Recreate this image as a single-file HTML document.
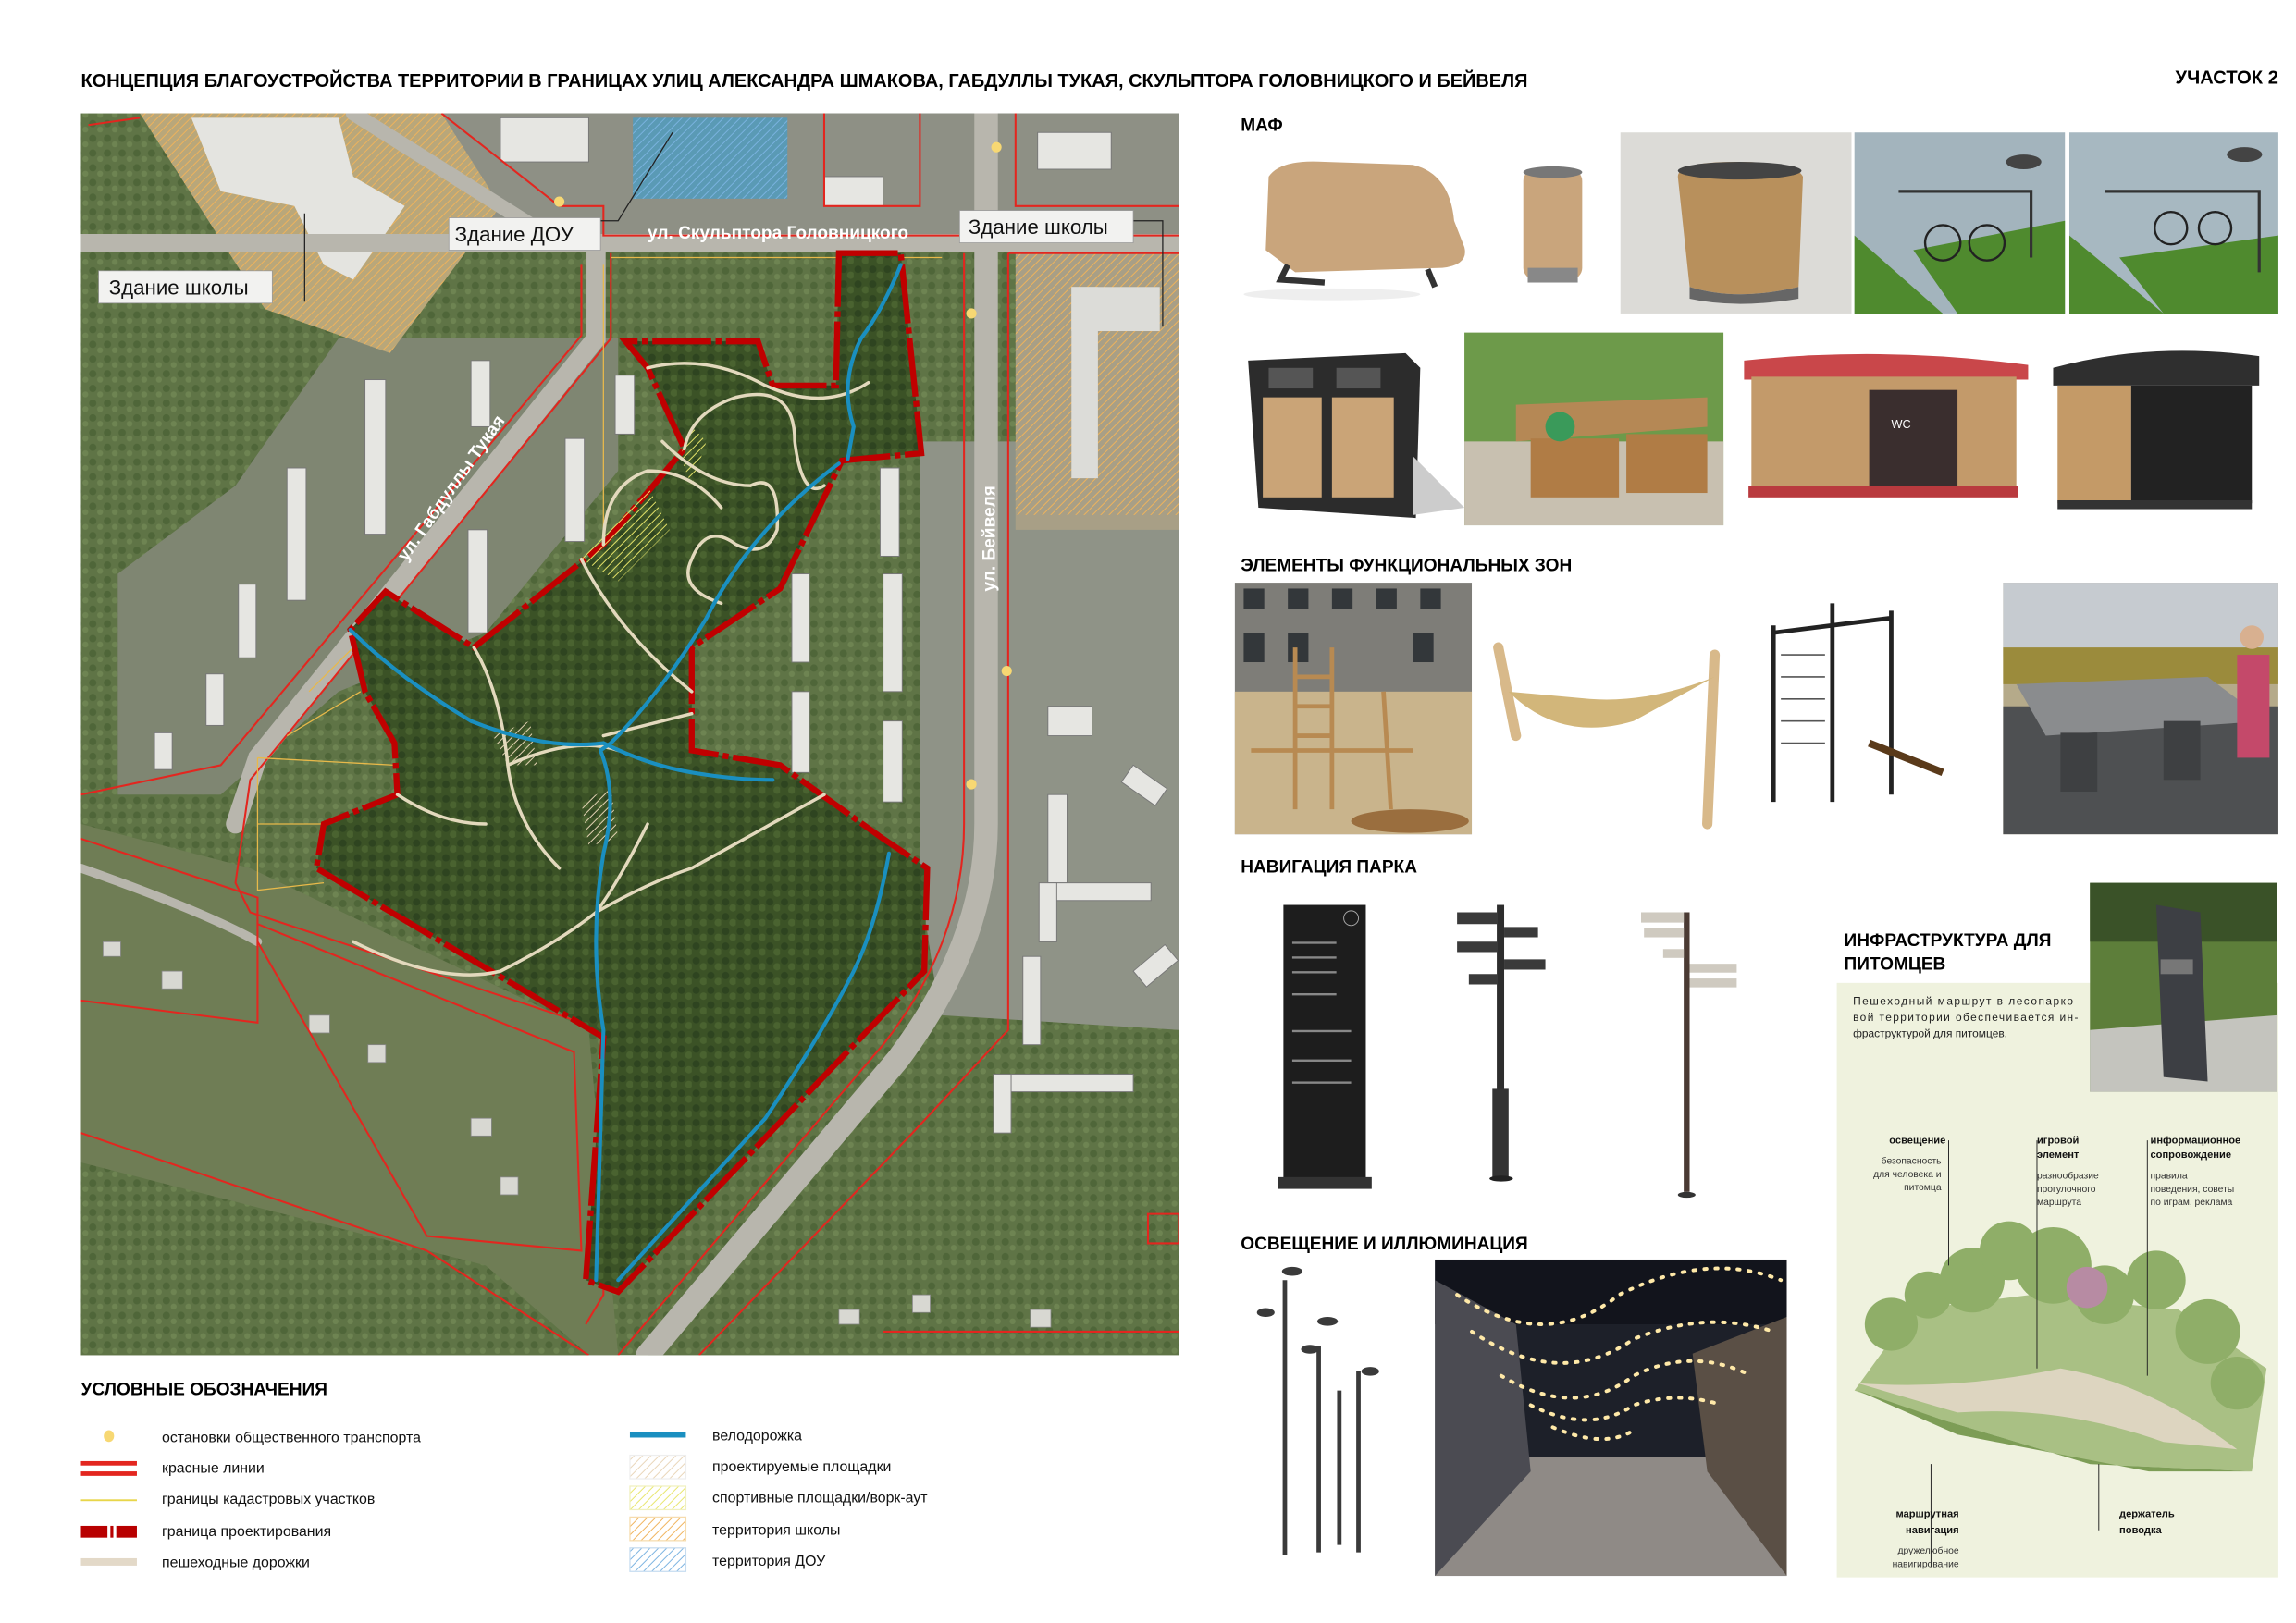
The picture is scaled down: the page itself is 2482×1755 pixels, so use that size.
<!DOCTYPE html>
<html><head><meta charset="utf-8"><style>
html,body{margin:0;padding:0;background:#fff}
svg{display:block}
text{font-family:"Liberation Sans",sans-serif}
</style></head><body>
<svg width="2482" height="1755" viewBox="0 0 1560 1103" xmlns="http://www.w3.org/2000/svg">
<defs>
<pattern id="hs" width="4" height="4" patternUnits="userSpaceOnUse" patternTransform="rotate(45)"><rect width="4" height="4" fill="none"/><line x1="0" y1="0" x2="0" y2="4" stroke="#e9d6b8" stroke-width="1.2"/></pattern>
<pattern id="hy" width="4" height="4" patternUnits="userSpaceOnUse" patternTransform="rotate(45)"><line x1="0" y1="0" x2="0" y2="4" stroke="#e8e66a" stroke-width="1.2"/></pattern>
<pattern id="ho" width="4" height="4" patternUnits="userSpaceOnUse" patternTransform="rotate(45)"><line x1="0" y1="0" x2="0" y2="4" stroke="#f0b35a" stroke-width="1.2"/></pattern>
<pattern id="hb" width="4" height="4" patternUnits="userSpaceOnUse" patternTransform="rotate(45)"><line x1="0" y1="0" x2="0" y2="4" stroke="#7ab3e0" stroke-width="1.2"/></pattern>
<pattern id="tree" width="10" height="10" patternUnits="userSpaceOnUse"><rect width="10" height="10" fill="#3b5226"/><circle cx="3" cy="3" r="2.5" fill="#2e4420"/><circle cx="8" cy="7" r="2.5" fill="#4a6330"/></pattern>
<pattern id="tree2" width="10" height="10" patternUnits="userSpaceOnUse"><rect width="10" height="10" fill="#5f7446"/><circle cx="3" cy="4" r="2.5" fill="#4f6639"/><circle cx="8" cy="8" r="2" fill="#6e8452"/></pattern>
<clipPath id="mapc"><rect x="55" y="77" width="746" height="844"/></clipPath>
</defs>

<text x="55" y="59" font-size="12.5" font-weight="bold" textLength="983" lengthAdjust="spacingAndGlyphs">КОНЦЕПЦИЯ БЛАГОУСТРОЙСТВА ТЕРРИТОРИИ В ГРАНИЦАХ УЛИЦ АЛЕКСАНДРА ШМАКОВА, ГАБДУЛЛЫ ТУКАЯ, СКУЛЬПТОРА ГОЛОВНИЦКОГО И БЕЙВЕЛЯ</text>
<text x="1478" y="57" font-size="12.5" font-weight="bold" textLength="70" lengthAdjust="spacingAndGlyphs">УЧАСТОК 2</text>

<g clip-path="url(#mapc)">
<rect x="55" y="77" width="746" height="844" fill="url(#tree2)"/>
<path d="M300 77 L801 77 L801 165 L300 165Z" fill="#8e9085"/>
<path d="M230 230 L420 230 L420 320 L330 430 L230 470 L150 540 L80 540 L80 390 L160 330Z" fill="#7f8672"/>
<path d="M625 300 L801 300 L801 760 L700 760 L640 700 L625 600Z" fill="#8f9387"/>
<path d="M690 165 L801 165 L801 360 L690 360Z" fill="#a89f86"/>
<path d="M55 560 L170 590 L400 700 L420 921 L55 921Z" fill="#6f7d55"/>
<path d="M55 790 L330 860 L400 921 L55 921Z" fill="url(#tree2)"/>
<path d="M440 921 L640 690 L801 700 L801 921Z" fill="url(#tree2)"/>
<path d="M95 77 L300 77 L340 140 L265 240 L180 210Z" fill="#b9a77a"/>
<path d="M95 77 L300 77 L340 140 L265 240 L180 210Z" fill="url(#ho)"/>
<path d="M130 80 L230 80 L240 120 L275 140 L240 190 L220 180 L200 140 L150 130Z" fill="#e4e4e0"/>
<rect x="430" y="80" width="105" height="55" fill="#5a9ab5"/>
<rect x="430" y="80" width="105" height="55" fill="url(#hb)"/>
<path d="M690 170 L801 170 L801 350 L690 350Z" fill="url(#ho)"/>
<rect x="728" y="195" width="60" height="30" fill="#dcdcd8"/><rect x="728" y="195" width="18" height="130" fill="#dcdcd8"/>
<g fill="#e6e6e2" stroke="#777" stroke-width="0.6">
<rect x="248" y="258" width="14" height="105"/><rect x="195" y="318" width="13" height="90"/><rect x="320" y="245" width="13" height="45"/><rect x="384" y="298" width="13" height="70"/><rect x="418" y="255" width="13" height="40"/><rect x="318" y="360" width="13" height="70"/><rect x="162" y="397" width="12" height="50"/><rect x="140" y="458" width="12" height="35"/><rect x="105" y="498" width="12" height="25"/><rect x="598" y="318" width="13" height="60"/><rect x="538" y="390" width="12" height="60"/><rect x="600" y="390" width="13" height="80"/><rect x="538" y="470" width="12" height="55"/><rect x="600" y="490" width="13" height="55"/><rect x="712" y="480" width="30" height="20"/><rect x="712" y="540" width="13" height="60"/><rect x="712" y="600" width="70" height="12"/><rect x="706" y="600" width="12" height="40"/><rect x="695" y="650" width="12" height="60"/><rect x="675" y="730" width="95" height="12"/><rect x="675" y="730" width="12" height="40"/><rect x="340" y="80" width="60" height="30"/><rect x="560" y="120" width="40" height="20"/><rect x="705" y="90" width="50" height="25"/><rect x="770" y="520" width="28" height="14" transform="rotate(35 770 520)"/><rect x="770" y="660" width="28" height="14" transform="rotate(-40 770 660)"/>
</g>
<g fill="#d8d8d2" stroke="#888" stroke-width="0.5"><rect x="70" y="640" width="12" height="10"/><rect x="110" y="660" width="14" height="12"/><rect x="210" y="690" width="14" height="12"/><rect x="250" y="710" width="12" height="12"/><rect x="320" y="760" width="14" height="12"/><rect x="340" y="800" width="12" height="12"/><rect x="570" y="890" width="14" height="10"/><rect x="620" y="880" width="12" height="12"/><rect x="700" y="890" width="14" height="12"/></g>
<g fill="none" stroke="#b8b6ad" stroke-linecap="round">
<path d="M55 165 L801 165" stroke-width="12"/>
<path d="M670 77 L670 560 Q670 640 610 720 L440 921" stroke-width="16"/>
<path d="M405 165 L405 230 L175 515 L160 560" stroke-width="13"/>
<path d="M240 77 L380 165" stroke-width="10"/>
<path d="M55 590 Q140 620 175 640" stroke-width="6"/>
</g>
<g fill="none" stroke="#e3261f" stroke-width="1.3">
<path d="M60 85 L95 80 M300 77 L380 140 L410 140 L410 160 L801 160"/>
<path d="M415 172 L415 230 L170 530 L160 600 L170 620 L410 700 L410 880 L398 900"/>
<path d="M395 180 L395 228 L150 520 L55 540"/>
<path d="M685 172 L801 172 M685 172 L685 700 L620 770 L475 921"/>
<path d="M655 172 L655 560 Q655 640 600 710 L420 921"/>
<path d="M55 570 L175 610 L175 695 L55 680"/>
<path d="M175 628 L390 715 L395 850 L290 840 L175 640"/>
<path d="M55 770 L290 850 L400 921"/>
<path d="M625 77 L625 140 L560 140 L560 77 M690 77 L690 140 L801 140"/>
<path d="M780 825 L801 825 L801 845 L780 845Z"/>
<path d="M600 905 L801 905"/>
</g>
<g fill="none" stroke="#e8b94a" stroke-width="0.8">
<path d="M175 515 L268 520 M175 515 L175 605 L220 600 M245 470 L195 500 M210 470 L240 440 M175 560 L220 560 M410 180 L410 380 M415 175 L640 175"/>
</g>
<path d="M570 172 L612 172 L626 308 L572 313 L530 400 L470 440 L470 510 L530 520 L600 570 L630 590 L628 660 L420 878 L398 870 L410 705 L215 590 L220 560 L270 540 L268 505 L248 470 L238 428 L262 402 L322 440 L410 370 L465 305 L440 250 L425 232 L515 232 L525 262 L568 262 Z" fill="url(#tree)"/>
<path d="M570 172 L612 172 L626 308 L572 313 L530 400 L470 440 L470 510 L530 520 L600 570 L630 590 L628 660 L420 878 L398 870 L410 705 L215 590 L220 560 L270 540 L268 505 L248 470 L238 428 L262 402 L322 440 L410 370 L465 305 L440 250 L425 232 L515 232 L525 262 L568 262 Z" fill="none" stroke="#c00000" stroke-width="4" stroke-dasharray="40 3 4 3"/>
<path d="M395 380 L440 330 L455 360 L420 395Z" fill="url(#hy)"/>
<path d="M470 290 L480 300 L470 330 L462 310Z" fill="url(#hy)"/>
<path d="M335 500 L360 490 L365 520 L345 520Z" fill="url(#hs)"/>
<path d="M395 545 L415 535 L420 570 L400 575Z" fill="url(#hs)"/>
<g fill="none" stroke="#e3d9bd" stroke-width="2.2" stroke-linecap="round">
<path d="M440 250 Q480 240 520 262 Q560 280 590 260"/>
<path d="M465 305 Q470 280 500 270 Q540 260 540 300 Q545 340 560 330"/>
<path d="M450 300 Q480 330 510 330 Q530 320 528 360 Q520 380 500 370 Q480 355 470 380 Q460 400 490 410"/>
<path d="M410 370 Q410 330 440 320 Q470 320 490 345"/>
<path d="M395 380 Q420 430 470 470"/>
<path d="M322 440 Q340 470 345 520 Q350 560 380 590 M345 520 Q390 500 420 510"/>
<path d="M270 540 Q300 560 330 560"/>
<path d="M405 620 Q380 640 340 660 Q300 670 240 640 M440 560 Q420 600 405 620"/>
<path d="M405 620 Q440 600 470 590 L560 540"/>
<path d="M410 500 L470 485"/>
</g>
<g fill="none" stroke="#1a8fc0" stroke-width="2.6" stroke-linecap="round">
<path d="M612 180 Q600 210 585 230 Q570 260 580 290 L576 312"/>
<path d="M570 315 Q510 360 480 420 Q450 470 415 505 L408 510"/>
<path d="M238 428 Q270 460 320 490 Q370 510 410 505 Q440 520 470 525 Q500 530 525 530"/>
<path d="M408 510 Q420 540 410 580 Q400 640 410 700 L405 870"/>
<path d="M604 580 Q595 630 580 660 Q560 700 520 760 L420 870"/>
</g>
<g fill="#f7d873"><circle cx="677" cy="100" r="3.5"/><circle cx="380" cy="137" r="3.5"/><circle cx="660" cy="213" r="3.5"/><circle cx="684" cy="456" r="3.5"/><circle cx="660" cy="533" r="3.5"/></g>
<path d="M207 205 L207 145 M408 150 L420 150 L457 90 M770 150 L790 150 L790 222" stroke="#222" stroke-width="0.8" fill="none"/>
<rect x="305" y="148" width="103" height="22" fill="#f2f2f0" stroke="#999" stroke-width="0.5"/>
<text x="309" y="164" font-size="14" fill="#111">Здание ДОУ</text>
<text x="440" y="162" font-size="12" fill="#fff" font-weight="bold">ул. Скульптора Головницкого</text>
<rect x="652" y="143" width="118" height="22" fill="#f2f2f0" stroke="#999" stroke-width="0.5"/>
<text x="658" y="159" font-size="14" fill="#111">Здание школы</text>
<rect x="67" y="184" width="118" height="22" fill="#f2f2f0" stroke="#999" stroke-width="0.5"/>
<text x="74" y="200" font-size="14" fill="#111">Здание школы</text>
<text x="0" y="0" font-size="12" fill="#fff" font-weight="bold" transform="translate(276 382) rotate(-55)">ул. Габдуллы Тукая</text>
<text x="0" y="0" font-size="12" fill="#fff" font-weight="bold" transform="translate(676 402) rotate(-90)">ул. Бейвеля</text>
</g>

<text x="55" y="948" font-size="12" font-weight="bold">УСЛОВНЫЕ ОБОЗНАЧЕНИЯ</text>
<g font-size="10" fill="#111">
<ellipse cx="74" cy="976" rx="3.5" ry="4" fill="#f7d873"/><text x="110" y="980">остановки общественного транспорта</text>
<rect x="55" y="993" width="38" height="3" fill="#e3261f"/><rect x="55" y="1000" width="38" height="3" fill="#e3261f"/><text x="110" y="1001">красные линии</text>
<rect x="55" y="1019" width="38" height="1.2" fill="#e8d64a"/><text x="110" y="1022">границы кадастровых участков</text>
<rect x="55" y="1037" width="18" height="8" fill="#b80000"/><rect x="75" y="1037" width="2" height="8" fill="#b80000"/><rect x="79" y="1037" width="14" height="8" fill="#b80000"/><text x="110" y="1044">граница проектирования</text>
<rect x="55" y="1059" width="38" height="5" fill="#e3d9c8"/><text x="110" y="1065">пешеходные дорожки</text>
<rect x="428" y="973" width="38" height="4" fill="#1a8fc0"/><text x="484" y="979">велодорожка</text>
<rect x="428" y="989" width="38" height="16" fill="url(#hs)" stroke="#eee" stroke-width="0.8"/><text x="484" y="1000">проектируемые площадки</text>
<rect x="428" y="1010" width="38" height="16" fill="url(#hy)" stroke="#f0f0c0" stroke-width="0.8"/><text x="484" y="1021">спортивные площадки/ворк-аут</text>
<rect x="428" y="1031" width="38" height="16" fill="url(#ho)" stroke="#f6dcae" stroke-width="0.8"/><text x="484" y="1043">территория школы</text>
<rect x="428" y="1052" width="38" height="16" fill="url(#hb)" stroke="#c7dcf0" stroke-width="0.8"/><text x="484" y="1064">территория ДОУ</text>
</g>

<g font-size="12" font-weight="bold">
<text x="843" y="89">МАФ</text>
<text x="843" y="388">ЭЛЕМЕНТЫ ФУНКЦИОНАЛЬНЫХ ЗОН</text>
<text x="843" y="593">НАВИГАЦИЯ ПАРКА</text>
<text x="843" y="849">ОСВЕЩЕНИЕ И ИЛЛЮМИНАЦИЯ</text>
</g>

<path d="M860 170 L862 120 Q870 108 900 110 L960 112 Q985 118 988 150 L995 168 Q998 180 980 182 L880 185 Z" fill="#c9a57c"/>
<path d="M875 180 L870 190 L900 192 M970 183 L975 195" stroke="#333" stroke-width="4" fill="none"/>
<ellipse cx="905" cy="200" rx="60" ry="4" fill="#eee"/>
<rect x="1035" y="115" width="40" height="75" rx="8" fill="#c9a57c"/><ellipse cx="1055" cy="117" rx="20" ry="4" fill="#777"/><rect x="1038" y="182" width="34" height="10" fill="#888"/>
<rect x="1101" y="90" width="157" height="123" fill="#dcdbd7"/>
<path d="M1140 120 Q1140 110 1180 110 Q1220 110 1225 120 L1222 195 Q1180 205 1148 195Z" fill="#b8905c"/><ellipse cx="1182" cy="116" rx="42" ry="6" fill="#444"/><path d="M1148 195 Q1180 205 1222 195 L1222 203 Q1180 210 1148 203Z" fill="#666"/>
<rect x="1260" y="90" width="143" height="123" fill="#a3b4bd"/><path d="M1260 160 L1320 213 L1260 213Z M1300 170 L1403 150 L1403 213 L1330 213Z" fill="#4f8a2e"/><circle cx="1320" cy="165" r="12" fill="none" stroke="#222" stroke-width="1.5"/><circle cx="1350" cy="165" r="12" fill="none" stroke="#222" stroke-width="1.5"/><ellipse cx="1375" cy="110" rx="12" ry="5" fill="#444"/><path d="M1290 130 L1380 130 L1380 175" stroke="#333" stroke-width="2" fill="none"/>
<rect x="1406" y="90" width="142" height="123" fill="#a7b8c1"/><path d="M1406 160 L1470 213 L1406 213Z M1440 175 L1548 160 L1548 213 L1470 213Z" fill="#4f8a2e"/><circle cx="1475" cy="155" r="11" fill="none" stroke="#222" stroke-width="1.5"/><circle cx="1505" cy="155" r="11" fill="none" stroke="#222" stroke-width="1.5"/><ellipse cx="1525" cy="105" rx="12" ry="5" fill="#444"/><path d="M1430 130 L1535 130 L1535 185" stroke="#333" stroke-width="2" fill="none"/>

<path d="M848 245 L955 240 L965 250 L962 352 L855 345 Z" fill="#2c2c2c"/>
<rect x="858" y="270" width="40" height="68" fill="#caa477"/><rect x="905" y="270" width="42" height="68" fill="#caa477"/><rect x="862" y="250" width="30" height="14" fill="#555"/><rect x="908" y="250" width="30" height="14" fill="#555"/>
<path d="M960 310 L995 345 L960 350Z" fill="#ccc"/>
<rect x="995" y="226" width="176" height="131" fill="#6d9a4a"/><rect x="995" y="300" width="176" height="57" fill="#c8c0b0"/><path d="M1030 275 L1160 270 L1160 290 L1030 300Z" fill="#b58855"/><rect x="1040" y="298" width="60" height="40" fill="#b07c45"/><rect x="1105" y="295" width="55" height="40" fill="#b07c45"/><circle cx="1060" cy="290" r="10" fill="#3a9a5a"/>
<path d="M1185 245 Q1280 235 1378 248 L1378 258 L1185 258Z" fill="#c9474a"/><rect x="1190" y="256" width="180" height="75" fill="#c39a6a"/><rect x="1270" y="265" width="60" height="66" fill="#3a2e2e"/><text x="1285" y="291" font-size="8" fill="#fff">WC</text><rect x="1188" y="330" width="183" height="8" fill="#b93a3e"/>
<path d="M1395 250 Q1460 232 1535 242 L1535 262 L1395 262Z" fill="#2f2f2f"/><rect x="1398" y="262" width="50" height="80" fill="#c49a67"/><rect x="1448" y="262" width="82" height="80" fill="#222"/><rect x="1398" y="340" width="132" height="6" fill="#333"/>

<rect x="839" y="396" width="161" height="171" fill="#7e7d78"/>
<g fill="#33373a"><rect x="845" y="400" width="14" height="14"/><rect x="875" y="400" width="14" height="14"/><rect x="905" y="400" width="14" height="14"/><rect x="935" y="400" width="14" height="14"/><rect x="965" y="400" width="14" height="14"/><rect x="845" y="430" width="14" height="20"/><rect x="875" y="430" width="14" height="20"/><rect x="960" y="430" width="14" height="20"/></g>
<rect x="839" y="470" width="161" height="97" fill="#c9b48c"/>
<g stroke="#b88a52" stroke-width="3"><path d="M880 440 L880 550 M905 440 L905 550 M880 460 L905 460 M880 480 L905 480 M880 500 L905 500 M850 510 L960 510 M940 470 L945 550"/></g>
<ellipse cx="958" cy="558" rx="40" ry="8" fill="#9a6e3e"/>
<path d="M1018 440 L1030 500 M1165 445 L1160 560" stroke="#d8b98a" stroke-width="7" stroke-linecap="round"/>
<path d="M1025 470 Q1060 505 1110 490 L1165 460 Q1120 478 1080 475 Z" fill="#d2b67a"/>
<g stroke="#222" stroke-width="3"><path d="M1205 425 L1205 545 M1245 410 L1245 545 M1285 415 L1285 540 M1205 430 L1285 420"/></g>
<g stroke="#555" stroke-width="1"><path d="M1210 445 L1240 445 M1210 460 L1240 460 M1210 475 L1240 475 M1210 490 L1240 490 M1210 505 L1240 505"/></g>
<path d="M1270 505 L1320 525" stroke="#5a3a1a" stroke-width="5"/>
<rect x="1361" y="396" width="187" height="171" fill="#b5aa8a"/><rect x="1361" y="396" width="187" height="50" fill="#c6cbd0"/><rect x="1361" y="440" width="187" height="25" fill="#9b8b3c"/><rect x="1361" y="480" width="187" height="87" fill="#4e5052"/><path d="M1370 465 L1500 460 L1540 490 L1390 500Z" fill="#8a8c8e"/><rect x="1400" y="498" width="25" height="40" fill="#3e4042"/><rect x="1470" y="490" width="25" height="40" fill="#3e4042"/><rect x="1520" y="445" width="22" height="70" fill="#c4496a"/><circle cx="1530" cy="433" r="8" fill="#d8b090"/>

<rect x="872" y="615" width="56" height="190" fill="#1d1d1d"/><rect x="868" y="800" width="64" height="8" fill="#333"/><circle cx="918" cy="624" r="5" fill="none" stroke="#aaa" stroke-width="0.6"/>
<g fill="#888"><rect x="878" y="640" width="30" height="1.5"/><rect x="878" y="650" width="30" height="1.5"/><rect x="878" y="660" width="30" height="1.5"/><rect x="878" y="675" width="30" height="1.5"/><rect x="878" y="700" width="40" height="1.5"/><rect x="878" y="720" width="40" height="1.5"/><rect x="878" y="735" width="40" height="1.5"/></g>
<rect x="1017" y="615" width="5" height="185" fill="#2d2d2d"/><rect x="1014" y="740" width="11" height="60" fill="#333"/><ellipse cx="1020" cy="801" rx="8" ry="2" fill="#222"/>
<g fill="#3a3a3a"><path d="M990 620 L1017 620 L1017 628 L990 628Z"/><path d="M1022 630 L1045 630 L1045 637 L1022 637Z"/><path d="M990 640 L1017 640 L1017 647 L990 647Z"/><path d="M1022 652 L1050 652 L1050 659 L1022 659Z"/><path d="M998 662 L1017 662 L1017 669 L998 669Z"/></g>
<rect x="1144" y="620" width="4" height="190" fill="#4a3a33"/><ellipse cx="1146" cy="812" rx="6" ry="2" fill="#333"/>
<g fill="#cfcac0"><rect x="1115" y="620" width="29" height="7"/><rect x="1117" y="631" width="27" height="6"/><rect x="1130" y="645" width="14" height="6"/><rect x="1148" y="655" width="32" height="6"/><rect x="1148" y="665" width="32" height="6"/></g>

<g stroke="#3a3a3a" stroke-width="3"><path d="M873 870 L873 1057 M896 915 L896 1055 M910 945 L910 1050 M923 932 L923 1055"/></g>
<g fill="#3a3a3a"><ellipse cx="878" cy="864" rx="7" ry="3"/><ellipse cx="860" cy="892" rx="6" ry="3"/><ellipse cx="902" cy="898" rx="7" ry="3"/><ellipse cx="890" cy="917" rx="6" ry="3"/><ellipse cx="931" cy="932" rx="6" ry="3"/></g>
<rect x="975" y="856" width="239" height="215" fill="#1d2029"/><path d="M975 856 L1214 856 L1214 900 L975 900Z" fill="#12141c"/>
<path d="M975 990 L1214 990 L1214 1071 L975 1071Z" fill="#8f8a86"/><path d="M975 870 L1030 900 L1040 1000 L975 1071Z" fill="#4b4b52"/><path d="M1150 920 L1214 895 L1214 1071 L1160 1000Z" fill="#5a4f45"/>
<g fill="none" stroke="#ffe9a8" stroke-width="2.5" stroke-dasharray="1.5 6" stroke-linecap="round">
<path d="M990 880 Q1050 920 1100 880 Q1160 850 1210 870"/>
<path d="M1000 905 Q1060 945 1110 910 Q1160 890 1205 905"/>
<path d="M1020 935 Q1070 965 1110 935 Q1150 915 1190 935"/>
<path d="M1040 955 Q1080 975 1110 955 Q1140 945 1170 955"/>
<path d="M1055 970 Q1090 985 1110 972"/>
</g>

<rect x="1248" y="668" width="300" height="404" fill="#eff2de"/>
<rect x="1420" y="600" width="127" height="142" fill="#5d7e3a"/><rect x="1420" y="600" width="127" height="40" fill="#3a5228"/><path d="M1420 700 L1547 690 L1547 742 L1420 742Z" fill="#c4c4be"/><path d="M1465 615 L1495 620 L1500 735 L1470 732Z" fill="#3d3f44"/><rect x="1468" y="652" width="22" height="10" fill="#777"/>
<text x="1253" y="643" font-size="12" font-weight="bold">ИНФРАСТРУКТУРА ДЛЯ</text>
<text x="1253" y="659" font-size="12" font-weight="bold">ПИТОМЦЕВ</text>
<g font-size="7.5" fill="#222"><text x="1259" y="683" textLength="153" lengthAdjust="spacing">Пешеходный маршрут в лесопарко-</text><text x="1259" y="694" textLength="153" lengthAdjust="spacing">вой территории обеспечивается ин-</text><text x="1259" y="705">фраструктурой для питомцев.</text></g>
<path d="M1260 945 L1300 890 L1380 880 L1480 890 L1540 930 L1530 1000 L1420 995 L1320 965Z" fill="#a9c084"/>
<g fill="#8fae68"><circle cx="1285" cy="900" r="18"/><circle cx="1310" cy="880" r="16"/><circle cx="1340" cy="870" r="22"/><circle cx="1365" cy="850" r="20"/><circle cx="1395" cy="860" r="26"/><circle cx="1430" cy="880" r="20"/><circle cx="1465" cy="870" r="20"/><circle cx="1500" cy="905" r="22"/><circle cx="1520" cy="940" r="18"/></g>
<circle cx="1418" cy="875" r="14" fill="#b78ba3"/>
<path d="M1262 940 Q1330 945 1400 930 Q1460 940 1520 985 L1470 980 Q1400 955 1330 960Z" fill="#ddd5c0"/>
<path d="M1262 945 L1330 975 L1460 1000 L1530 1000 L1420 995 L1320 965Z" fill="#7d9d56"/>
<g stroke="#222" stroke-width="0.6"><path d="M1324 775 L1324 860 M1384 775 L1384 930 M1459 775 L1459 935 M1312 995 L1312 1065 M1426 995 L1426 1040"/></g>
<g font-size="7" fill="#111" font-weight="bold"><text x="1322" y="777" text-anchor="end">освещение</text><text x="1384" y="777">игровой</text><text x="1384" y="787">элемент</text><text x="1461" y="777">информационное</text><text x="1461" y="787">сопровождение</text><text x="1331" y="1031" text-anchor="end">маршрутная</text><text x="1331" y="1042" text-anchor="end">навигация</text><text x="1440" y="1031">держатель</text><text x="1440" y="1042">поводка</text></g>
<g font-size="6.5" fill="#333"><text x="1319" y="791" text-anchor="end">безопасность</text><text x="1319" y="800" text-anchor="end">для человека и</text><text x="1319" y="809" text-anchor="end">питомца</text><text x="1384" y="801">разнообразие</text><text x="1384" y="810">прогулочного</text><text x="1384" y="819">маршрута</text><text x="1461" y="801">правила</text><text x="1461" y="810">поведения, советы</text><text x="1461" y="819">по играм, реклама</text><text x="1331" y="1056" text-anchor="end">дружелюбное</text><text x="1331" y="1065" text-anchor="end">навигирование</text></g>
</svg>
</body></html>
